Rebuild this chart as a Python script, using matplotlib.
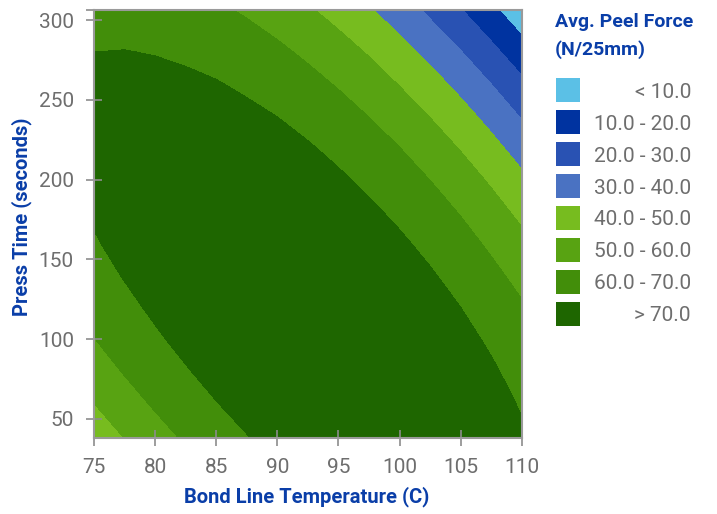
import numpy as np
import matplotlib
matplotlib.use('Agg')
import matplotlib.pyplot as plt
from matplotlib.patches import Rectangle

# bond line temperature (C) and press time (s) grid
temps = [75, 77.5, 80, 82.5, 85, 87.5, 90, 92.5, 95, 97.5, 100, 102.5, 105, 107.5, 110]
times = [38, 60, 80, 100, 120, 140, 160, 180, 200, 220, 240, 260, 280, 300, 306.4]

# avg. peel force (N/25mm), one row per press time
peel_force = [
    [43.5, 50.1, 56.0, 61.2, 65.7, 69.6, 72.7, 75.1, 76.8, 77.7, 77.9, 77.4, 76.1, 74.0, 71.1],
    [50.1, 56.0, 61.3, 65.9, 69.8, 73.0, 75.6, 77.4, 78.5, 78.8, 78.4, 77.3, 75.4, 72.8, 69.3],
    [55.3, 60.7, 65.4, 69.4, 72.8, 75.5, 77.5, 78.7, 79.3, 79.1, 78.3, 76.6, 74.2, 71.1, 67.1],
    [59.8, 64.6, 68.8, 72.3, 75.1, 77.3, 78.7, 79.5, 79.5, 78.8, 77.4, 75.3, 72.4, 68.8, 64.4],
    [63.7, 67.9, 71.5, 74.5, 76.8, 78.4, 79.3, 79.6, 79.1, 77.9, 76.0, 73.4, 70.0, 65.9, 61.0],
    [66.8, 70.5, 73.6, 76.0, 77.8, 78.9, 79.3, 79.0, 78.1, 76.4, 74.0, 70.9, 67.0, 62.4, 57.1],
    [69.3, 72.4, 75.0, 76.9, 78.2, 78.7, 78.7, 77.9, 76.4, 74.3, 71.4, 67.8, 63.5, 58.4, 52.6],
    [71.0, 73.7, 75.7, 77.1, 77.9, 78.0, 77.4, 76.1, 74.2, 71.5, 68.2, 64.1, 59.4, 53.8, 47.6],
    [72.2, 74.3, 75.8, 76.7, 77.0, 76.6, 75.5, 73.8, 71.3, 68.2, 64.4, 59.9, 54.7, 48.7, 42.0],
    [72.6, 74.2, 75.3, 75.7, 75.4, 74.5, 73.0, 70.8, 67.9, 64.3, 60.1, 55.1, 49.4, 43.0, 35.9],
    [72.4, 73.5, 74.1, 74.0, 73.2, 71.9, 69.9, 67.2, 63.9, 59.8, 55.1, 49.7, 43.6, 36.8, 29.2],
    [71.5, 72.2, 72.2, 71.6, 70.5, 68.6, 66.2, 63.0, 59.2, 54.8, 49.6, 43.8, 37.3, 30.0, 22.1],
    [70.0, 70.2, 69.7, 68.7, 67.1, 64.8, 61.9, 58.3, 54.1, 49.2, 43.6, 37.3, 30.4, 22.7, 14.3],
    [67.8, 67.5, 66.7, 65.2, 63.1, 60.3, 57.0, 53.0, 48.3, 43.0, 37.0, 30.3, 23.0, 14.9, 6.1],
    [67.0, 66.6, 65.5, 63.9, 61.6, 58.8, 55.3, 51.1, 46.3, 40.9, 34.8, 28.0, 20.5, 12.3, 3.4],
]

levels = [-1000, 10, 20, 30, 40, 50, 60, 70, 1000]
legend_labels = ['< 10.0', '10.0 - 20.0', '20.0 - 30.0', '30.0 - 40.0',
                 '40.0 - 50.0', '50.0 - 60.0', '60.0 - 70.0', '> 70.0']
colors = ['#5bc0e6', '#0033a0', '#2952b3', '#4a72c2', '#77bc1f', '#58a312', '#428e0a', '#1e6600']

W, H = 717, 514
BLUE = '#0a3ea8'
GRAY = '#6e6e6e'
LABEL_FONT = dict(family=['Roboto', 'DejaVu Sans'], weight='bold', color=BLUE)
TICK_FONT = ['Roboto', 'DejaVu Sans']


def fx(x):
    return x / W


def fy(y):
    return 1 - y / H


def main():
    fig = plt.figure(figsize=(W / 100, H / 100), dpi=100)
    ax = fig.add_axes([fx(94), fy(438), 427.7 / W, 428 / H])

    ax.contourf(temps, times, np.array(peel_force), levels=levels, colors=colors)
    ax.set_xlim(75, 110)
    ax.set_ylim(38, 306.4)
    ax.set_xticks(range(75, 111, 5))
    ax.set_yticks(range(50, 301, 50))
    # little corner tick at the top of the frame
    ax.set_yticks([306.4], minor=True)

    for s in ax.spines.values():
        s.set_color('#9a9a9a')
        s.set_linewidth(1.5)
    ax.tick_params(direction='inout', length=11, width=1.2, color='#8c8c8c',
                   labelcolor=GRAY, labelsize=15)
    ax.tick_params(axis='y', which='minor', direction='out', length=6, width=1.2, color='#8c8c8c')
    ax.tick_params(axis='x', pad=9)
    ax.tick_params(axis='y', pad=9)
    for lab in ax.get_xticklabels() + ax.get_yticklabels():
        lab.set_family(TICK_FONT)

    fig.text(fx(307), fy(497), 'Bond Line Temperature (C)', ha='center', va='center',
             fontsize=14.5, **LABEL_FONT)
    fig.text(fx(22), fy(217), 'Press Time (seconds)', ha='center', va='center',
             rotation=90, fontsize=14.5, **LABEL_FONT)

    # legend
    fig.text(fx(555), fy(22), 'Avg. Peel Force', ha='left', va='center', fontsize=14, **LABEL_FONT)
    fig.text(fx(555), fy(50), '(N/25mm)', ha='left', va='center', fontsize=14, **LABEL_FONT)
    for i, (lab, c) in enumerate(zip(legend_labels, colors)):
        top = 78.3 + 31.9 * i
        fig.add_artist(Rectangle((fx(556), fy(top + 24)), 24 / W, 24 / H,
                                 transform=fig.transFigure, facecolor=c, edgecolor='none'))
        fig.text(fx(691), fy(top + 14), lab, ha='right', va='center', fontsize=15,
                 color=GRAY, family=TICK_FONT)

    fig.savefig('out.png', dpi=100)


if __name__ == "__main__":
    main()
